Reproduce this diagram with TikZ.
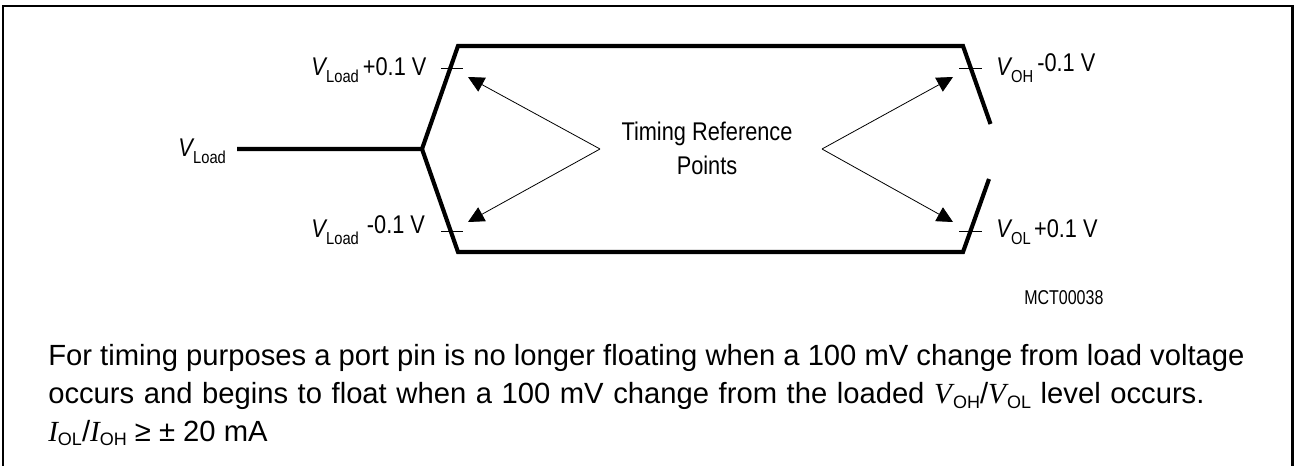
\documentclass[tikz,border=0pt]{standalone}
\usepackage{fontspec}
\setmainfont{Liberation Sans}
\newfontfamily\timesf{Liberation Serif}
\newfontfamily\condf[FakeStretch=0.85]{Liberation Sans}
\newfontfamily\condtiny[FakeStretch=0.8]{Liberation Sans}
\usetikzlibrary{arrows.meta}
\newcommand{\lsub}[1]{\raisebox{-5.2pt}{\fontsize{13}{14}\selectfont #1}}
\newcommand{\vv}[1]{\textit{V}\hspace{-1pt}\lsub{#1}}
\newcommand{\psub}[1]{\raisebox{-3.5pt}{\fontsize{13.5}{15}\selectfont #1}}
\begin{document}
\begin{tikzpicture}[x=0.75pt,y=-0.75pt,
  wave/.style={line width=3.1pt,line join=miter},
  tickm/.style={line width=0.6pt},
  pointer/.style={line width=0.6pt,-{Triangle[length=12pt,width=11.8pt]}},
  lab/.style={inner sep=0pt,font=\condf\fontsize{19.2}{22}\selectfont,anchor=base west},
  para/.style={inner sep=0pt,font=\fontsize{21.9}{26}\selectfont,anchor=base west}]
\useasboundingbox (0,0) rectangle (1294,466);
\draw[line width=1.7pt] (3,466) -- (3,5.8) -- (1292.6,5.8) -- (1292.6,466);
\coordinate (start) at (237,149);
\coordinate (j) at (422,149);
\coordinate (tl) at (458,46);
\coordinate (tr) at (963,46);
\coordinate (te) at (990.5,124);
\coordinate (bl) at (458,252);
\coordinate (br) at (963,252);
\coordinate (be) at (989,179);
\draw[wave] (start) -- (j) -- (tl) -- (tr) -- (te);
\draw[wave] (j) -- (bl) -- (br) -- (be);
\coordinate (t1a) at (441,68); \coordinate (t1b) at (463,68);
\coordinate (t2a) at (441,231); \coordinate (t2b) at (463,231);
\coordinate (t3a) at (959,68); \coordinate (t3b) at (982,68);
\coordinate (t4a) at (959,231); \coordinate (t4b) at (982,231);
\draw[tickm] (t1a) -- (t1b) (t2a) -- (t2b) (t3a) -- (t3b) (t4a) -- (t4b);
\coordinate (la) at (600,149);
\coordinate (ra) at (822,149);
\coordinate (p1) at (468,77);
\coordinate (p2) at (468,222);
\coordinate (p3) at (953,77);
\coordinate (p4) at (953,222);
\draw[pointer] (la) -- (p1);
\draw[pointer] (la) -- (p2);
\draw[pointer] (ra) -- (p3);
\draw[pointer] (ra) -- (p4);
\node[lab] (a) at (178,157) {\vv{Load}};
\node[lab] (b) at (311,76) {\vv{Load}\hspace{3pt}+0.1 V};
\node[lab] (c) at (311,238) {\vv{Load}\hspace{6pt}\raisebox{3pt}{-0.1 V}};
\node[lab] (d) at (996,76) {\vv{OH}\hspace{3pt}\raisebox{3pt}{-0.1 V}};
\node[lab] (e) at (996,238) {\vv{OL}\hspace{2.5pt}+0.1 V};
\node[inner sep=0pt,align=center,font=\condf\fontsize{19.2}{25.5}\selectfont] (t) at (707,148.5) {Timing Reference\\Points};
\node[inner sep=0pt,anchor=base west,font=\condtiny\fontsize{15}{17}\selectfont] (m) at (1024,305) {MCT00038};
\node[para] (p) at (48,365.5) {For timing purposes a port pin is no longer floating when a 100 mV change from load voltage};
\node[para] (q) at (48,403.5) {\spaceskip=\dimexpr 0.278em+1.1pt\relax occurs and begins to float when a 100 mV change from the loaded {\timesf\itshape V}\hspace{0.8pt}\psub{OH}/{\timesf\itshape V}\hspace{0.8pt}\psub{OL} level occurs.};
\node[para] (r) at (48,441) {{\timesf\itshape I}\psub{OL}/{\timesf\itshape I}\psub{OH} ≥ ± 20 mA};
\end{tikzpicture}
\end{document}
